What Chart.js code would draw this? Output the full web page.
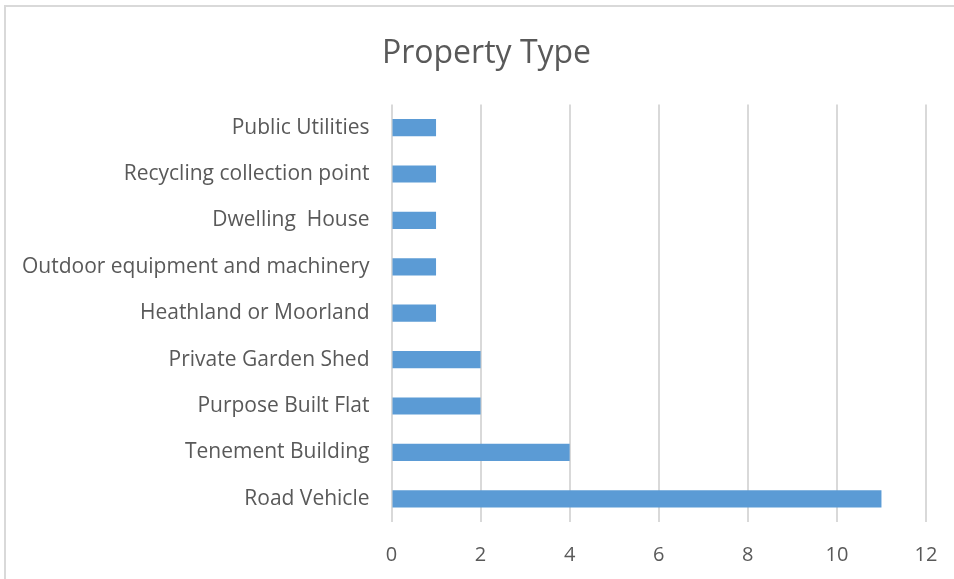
<!DOCTYPE html>
<html lang="en">
<head>
    <meta charset="UTF-8">
    <title>Property Type</title>
    <script src="https://cdn.jsdelivr.net/npm/chart.js"></script>
    <style>
        body { margin: 0; background: #fff; overflow: hidden; }
        #wrap { position: relative; width: 954px; height: 579px; }
        #frame { position: absolute; left: 4px; top: 5px; width: 1000px; height: 1000px;
                 border-left: 2px solid #d9d9d9; border-top: 2px solid #d9d9d9; }
    </style>
</head>
<body>
    <div id="wrap">
        <div id="frame"></div>
        <canvas id="grafico" width="954" height="579"></canvas>
    </div>

    <script>
        // categorias de arriba a abajo
        const categorias = [
            'Public Utilities',
            'Recycling collection point',
            'Dwelling  House',
            'Outdoor equipment and machinery',
            'Heathland or Moorland',
            'Private Garden Shed',
            'Purpose Built Flat',
            'Tenement Building',
            'Road Vehicle'
        ];
        const valores = [1, 1, 1, 1, 1, 2, 2, 4, 11];
        const ticksX = [0, 2, 4, 6, 8, 10, 12];

        const gris = '#595959';
        const fuente = '"Open Sans", Lato, sans-serif';
        const izquierda = 19;   // inicio del eje de categorias
        const derecha = 28;     // margen a la derecha del area del grafico

        const ctx = document.getElementById('grafico').getContext('2d');
        new Chart(ctx, {
            type: 'bar',
            data: {
                labels: categorias,
                datasets: [{
                    label: 'Property Type',
                    data: valores,
                    backgroundColor: '#5b9bd5',
                    borderWidth: 0,
                    categoryPercentage: 1,
                    barPercentage: 0.37
                }]
            },
            options: {
                indexAxis: 'y',
                responsive: false,
                animation: false,
                layout: { padding: { left: izquierda, right: 0, top: 0, bottom: 0 } },
                plugins: {
                    legend: { display: false },
                    tooltip: { enabled: false },
                    title: {
                        display: true,
                        text: 'Property Type',
                        color: gris,
                        font: { family: fuente, size: 32, weight: 'normal' },
                        padding: { top: 35, bottom: 31 }
                    }
                },
                scales: {
                    x: {
                        min: 0,
                        max: 12,
                        afterBuildTicks: s => { s.ticks = ticksX.map(v => ({ value: v })); },
                        grid: { color: '#d9d9d9', lineWidth: 2, drawTicks: false },
                        border: { display: false },
                        ticks: { color: gris, font: { family: fuente, size: 20 }, padding: 21 },
                        afterFit: s => {
                            s.height = 57;
                            // el margen derecho lo pone el eje vacio
                            s.paddingLeft = 0;
                            s.paddingRight = 0;
                        }
                    },
                    y: {
                        grid: { display: false, drawTicks: false },
                        border: { display: false },
                        ticks: { color: gris, font: { family: fuente, size: 21 }, padding: 22 },
                        afterFit: s => { s.width = 391.5 - izquierda; }
                    },
                    // eje vacio que deja el margen derecho
                    margen: {
                        type: 'linear',
                        position: 'right',
                        grid: { display: false, drawTicks: false },
                        border: { display: false },
                        ticks: { display: false },
                        afterFit: s => { s.width = derecha; }
                    }
                }
            }
        });
    </script>
</body>
</html>
